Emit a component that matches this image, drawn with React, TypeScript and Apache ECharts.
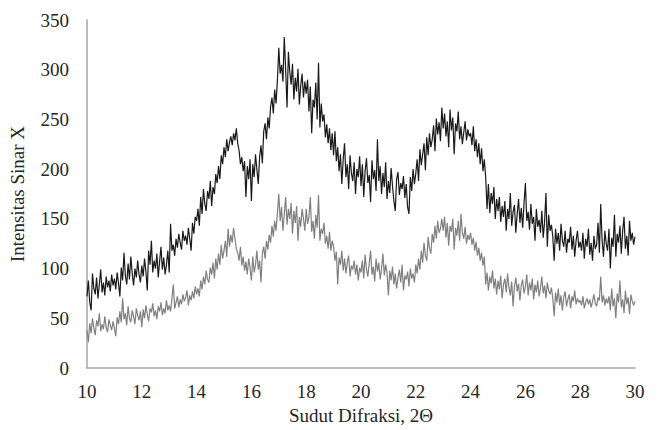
import React, { useEffect, useRef } from "react";
import * as echarts from "echarts";

const X_START = 10;
const X_STEP = 0.05;
const xTicks = [10, 12, 14, 16, 18, 20, 22, 24, 26, 28, 30];

// Upper (black) diffractogram, 10.00 .. 30.00 every 0.05
const blackSeries: number[] = [
  72, 88, 66, 58, 95, 80, 74, 91, 70, 84, 99, 76, 86, 73, 92, 81, 88, 77, 94, 83,
  90, 79, 96, 85, 72, 101, 88, 116, 93, 84, 105, 89, 112, 95, 83, 100, 91, 108, 94, 86,
  103, 92, 110, 97, 78, 118, 104, 128, 96, 108, 100, 115, 91, 107, 122, 99, 111, 94, 104, 118,
  96, 145, 118, 124, 113, 130, 121, 135, 126, 119, 138, 128, 133, 124, 141, 130, 118, 146, 135, 152,
  148, 160, 143, 172, 155, 180, 165, 158, 178, 170, 188, 163, 182, 175, 195, 186, 203, 190, 214, 205,
  222, 212, 230, 218, 227, 233, 224, 236, 229, 241, 226, 219, 205, 212, 198, 208, 172, 203, 190, 210,
  168, 205, 192, 215, 200, 185, 212, 224, 206, 238, 246, 230, 252, 241, 263, 272, 256, 280, 266, 290,
  322, 296, 305, 288, 333, 300, 262, 318, 298, 285, 306, 270, 292, 278, 301, 265, 284, 296, 272, 288,
  276, 290, 258, 283, 236, 270, 262, 287, 250, 307, 242, 266, 248, 255, 232, 245, 226, 241, 219, 236,
  214, 238, 208, 222, 198, 215, 185, 210, 226, 192, 205, 180, 214, 196, 188, 207, 175, 200, 192, 213,
  183, 205, 172, 198, 211, 186, 194, 167, 209, 190, 199, 178, 230, 188, 203, 175, 196, 182, 207, 170,
  188, 176, 201, 183, 168, 158, 190, 197, 174, 186, 180, 193, 171, 185, 162, 155, 192, 178, 200, 185,
  196, 210, 188, 220, 204, 215, 226, 199, 232, 214, 236, 222, 230, 244, 218, 251, 235, 247, 228, 262,
  241, 256, 233, 248, 222, 260, 239, 252, 215, 246, 238, 258, 230, 243, 225, 237, 248, 229, 240, 233,
  236, 224, 243, 218, 230, 212, 226, 205, 221, 198, 210, 192, 160, 185, 156, 176, 165, 182, 150, 170,
  158, 172, 147, 163, 152, 168, 138, 160, 150, 176, 143, 157, 164, 136, 155, 170, 146, 161, 141, 166,
  186, 148, 157, 139, 165, 145, 152, 128, 160, 142, 149, 136, 158, 131, 147, 176, 122, 154, 138, 144,
  132, 108, 140, 125, 136, 118, 145, 128, 122, 138, 116, 130, 126, 142, 119, 133, 112, 128, 138, 121,
  127, 118, 136, 110, 130, 122, 140, 114, 126, 108, 133, 120, 124, 146, 116, 165, 128, 112, 138, 125,
  118, 140, 100, 131, 122, 154, 112, 135, 126, 143, 115, 138, 152, 120, 133, 113, 148, 128, 136, 124,
  132,
];

// Lower (grey) diffractogram, 10.00 .. 30.00 every 0.05
const greySeries: number[] = [
  38, 26, 45, 35, 50, 40, 33, 48, 42, 55, 37, 44, 39, 52, 41, 36, 49, 43, 38, 47,
  40, 32, 51, 44, 57, 46, 70, 49, 55, 43, 62, 50, 46, 58, 52, 44, 60, 53, 48, 57,
  41, 59, 50, 63, 54, 47, 60, 56, 65, 52, 58, 49, 62, 57, 66, 53, 60, 55, 68, 58,
  63, 57, 70, 84, 60, 66, 72, 61, 69, 64, 74, 67, 71, 78, 63, 73, 68, 77, 70, 82,
  74, 80, 72, 88, 79, 92, 84, 98, 89, 86, 101, 94, 106, 90, 110, 99, 115, 104, 124, 110,
  118, 128, 112, 140, 122, 134, 126, 141, 130, 120, 116, 108, 122, 103, 112, 98, 107, 94, 110, 101,
  88, 112, 96, 104, 118, 99, 108, 86, 115, 122, 110, 128, 119, 134, 126, 143, 132, 148, 138, 156,
  175, 148, 162, 138, 155, 172, 144, 160, 150, 166, 135, 158, 146, 163, 128, 152, 142, 160, 150, 138,
  160, 145, 152, 172, 137, 148, 130, 154, 141, 174, 128, 140, 135, 146, 125, 133, 120, 137, 118, 128,
  122, 108, 117, 84, 111, 104, 118, 98, 110, 95, 106, 113, 92, 103, 99, 108, 94, 104, 88, 101,
  96, 108, 90, 114, 99, 92, 105, 118, 94, 102, 87, 110, 97, 106, 89, 100, 115, 93, 104, 96,
  73, 98, 88, 102, 84, 95, 80, 91, 99, 86, 104, 78, 93, 89, 97, 82, 100, 90, 95, 86,
  104, 95, 110, 99, 118, 106, 126, 113, 108, 132, 120, 115, 135, 126, 143, 130, 148, 136, 140, 150,
  138, 152, 131, 146, 123, 143, 137, 150, 119, 141, 133, 148, 128, 155, 136, 130, 142, 125, 134, 129,
  136, 124, 131, 118, 127, 113, 121, 108, 116, 103, 112, 84, 96, 78, 92, 85, 98, 80, 90, 74,
  88, 79, 93, 70, 84, 90, 76, 95, 81, 73, 87, 62, 82, 91, 77, 85, 68, 83, 89, 75,
  82, 94, 73, 86, 78, 90, 69, 84, 76, 88, 72, 80, 92, 75, 83, 70, 86, 78, 74, 81,
  70, 52, 76, 66, 80, 63, 73, 58, 71, 77, 62, 69, 74, 60, 72, 67, 78, 64, 70, 66,
  68, 63, 72, 60, 66, 70, 64, 69, 61, 67, 74, 65, 62, 71, 68, 92, 66, 73, 63, 70,
  65, 72, 58, 80, 62, 70, 50, 75, 66, 88, 61, 69, 55, 78, 64, 71, 54, 74, 67, 63,
  67,
];

const toPairs = (vals: number[]) =>
  vals.map((v, i) => [+(X_START + i * X_STEP).toFixed(2), v]);

const FONT = "Liberation Serif";
const TEXT = "#262626";
const AXIS = "#a6a6a6";

export default function App() {
  const ref = useRef<HTMLDivElement>(null);
  useEffect(() => {
    if (!ref.current) return;
    const chart = echarts.init(ref.current, undefined, { renderer: "svg" });
    chart.setOption({
      animation: false,
      backgroundColor: "#ffffff",
      textStyle: { fontFamily: FONT },
      grid: { left: 86, right: 25, top: 20, bottom: 60 },
      xAxis: {
        type: "value",
        min: xTicks[0],
        max: xTicks[xTicks.length - 1],
        interval: 2,
        name: "Sudut Difraksi, 2Θ",
        nameLocation: "middle",
        nameGap: 38,
        nameTextStyle: { fontFamily: FONT, fontSize: 19, color: TEXT },
        axisLine: { show: true, lineStyle: { color: AXIS, width: 1.5 } },
        axisTick: { show: false },
        splitLine: { show: false },
        axisLabel: { fontFamily: FONT, fontSize: 19, color: TEXT, margin: 14 },
      },
      yAxis: {
        type: "value",
        min: 0,
        max: 350,
        interval: 50,
        name: "Intensitas Sinar X",
        nameLocation: "middle",
        nameGap: 60,
        nameTextStyle: { fontFamily: FONT, fontSize: 19, color: TEXT },
        axisLine: { show: true, lineStyle: { color: AXIS, width: 1.5 } },
        axisTick: { show: false },
        splitLine: { show: false },
        axisLabel: { fontFamily: FONT, fontSize: 19, color: TEXT, margin: 18 },
      },
      series: [
        {
          type: "line",
          data: toPairs(greySeries),
          showSymbol: false,
          symbol: "none",
          lineStyle: { color: "#808080", width: 1.2 },
        },
        {
          type: "line",
          data: toPairs(blackSeries),
          showSymbol: false,
          symbol: "none",
          lineStyle: { color: "#1a1a1a", width: 1.2 },
        },
      ],
    });
    return () => chart.dispose();
  }, []);
  return <div ref={ref} style={{ width: 660, height: 430, position: "absolute", left: 0, top: 0 }} />;
}
